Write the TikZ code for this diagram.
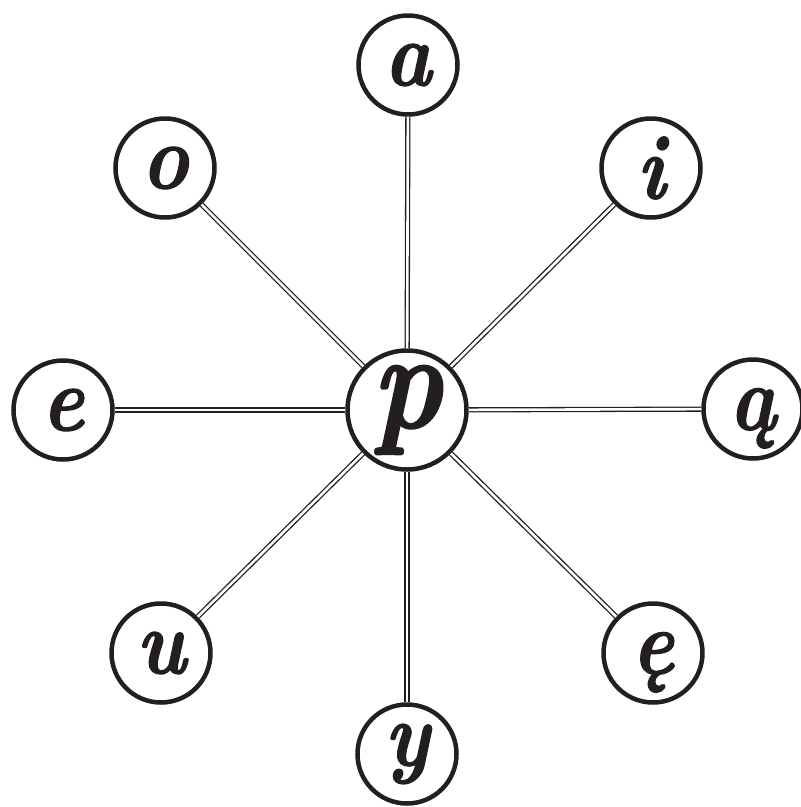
\documentclass[tikz,border=0pt]{standalone}
\usepackage{fontspec}
\setmainfont{Latin Modern Roman}
\newfontfamily\lett{Latin Modern Roman}[FakeStretch=0.86,FakeBold=1.2]
\definecolor{ink}{HTML}{231F20}
\begin{document}
\begin{tikzpicture}[x=1pt,y=-1pt,
  v/.style={circle,draw=ink,text=ink,line width=4.5pt,minimum size=99pt,inner sep=0pt,fill=white,
    font=\lett\fontsize{92}{92}\selectfont\bfseries\itshape},
  hub/.style={v,minimum size=119pt,font=\lett\fontsize{138}{138}\selectfont\bfseries\itshape},
  link/.style={draw=ink,double=white,line width=1.3pt,double distance=2.6pt}]
\useasboundingbox (0,0) rectangle (801,807);
\node[hub] (p) at (407,410) {p};
\node[v] (a) at (408,65) {a};
\node[v] (o) at (165,168) {o};
\node[v] (i) at (651,168) {i};
\node[v] (e) at (63,410) {e};
\node[v,text depth=0pt] (aog) at (753,409) {ą};
\node[v] (u) at (161,653) {u};
\node[v,text depth=0pt] (eog) at (653,653) {ę};
\node[v] (y) at (407,754) {y};
\foreach \n in {a,o,i,e,aog,u,eog,y} \draw[link] (p) -- (\n);
\end{tikzpicture}
\end{document}
